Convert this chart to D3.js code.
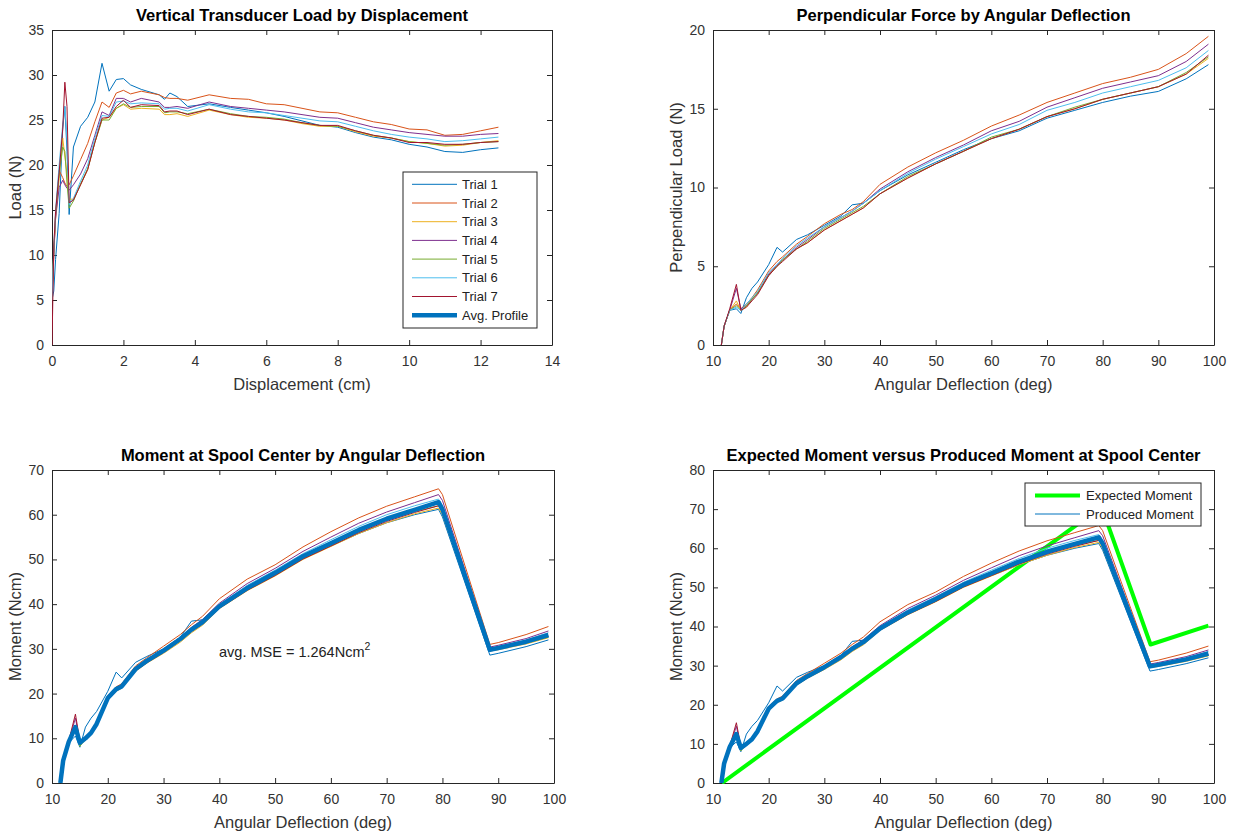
<!DOCTYPE html>
<html><head><meta charset="utf-8">
<script src="https://cdn.jsdelivr.net/npm/d3@7/dist/d3.min.js"></script>
<style>
html,body{margin:0;padding:0;background:#fff;}
svg{display:block;font-family:"Liberation Sans",Arial,Helvetica,sans-serif;}
</style></head><body>
<svg id="chart" width="1236" height="835"></svg>
<script>
// ---------- categories / names ----------
const trialNames = ["Trial 1","Trial 2","Trial 3","Trial 4","Trial 5","Trial 6","Trial 7"];
const trialColors = ["#0072BD","#D95319","#EDB120","#7E2F8E","#77AC30","#4DBEEE","#A2142F"];

// ---------- Panel 1: Load vs Displacement ----------
const dispX = [0,0.05,0.1,0.2,0.3,0.36,0.42,0.48,0.6,0.8,1.0,1.2,1.4,1.6,1.8,2.0,2.2,2.5,3.0,3.15,3.3,3.5,3.8,4.4,5.0,5.5,6.0,6.5,7.0,7.5,8.0,8.5,9.0,9.5,10.0,10.5,11.0,11.5,12.0,12.5];
const loadT1 = [5.0,6.0,9.5,14.6,24.0,26.5,21.5,14.5, 22.0,24.3,25.3,27.0,31.3,28.2,29.5,29.6,28.9,28.4,27.8,27.3,28.0,27.6,26.5,26.8,26.4,26.1,25.8,25.4,24.9,24.4,24.2,23.6,23.1,22.8,22.3,22.0,21.5,21.4,21.7,21.9];
const loadT2 = [5.0,10.0,14.5,19.4,18.6,18.0,17.6,17.8, 18.8,20.6,22.4,24.8,27.0,26.4,28.0,28.3,27.9,28.2,27.8,27.5,27.4,27.4,27.2,27.8,27.4,27.3,26.8,26.7,26.3,25.9,25.8,25.3,24.8,24.5,24.0,23.9,23.3,23.4,23.8,24.2];
const loadT3 = [5.0,10.5,14.0,18.5,23.0,21.0,19.0,16.2, 16.2,17.8,19.5,22.5,25.0,25.3,26.3,26.7,26.2,26.3,26.2,25.6,25.6,25.7,25.4,26.1,25.6,25.3,25.2,25.0,24.6,24.3,24.3,23.7,23.2,23.0,22.6,22.4,22.1,22.2,22.5,22.7];
const loadT4 = [5.0,10.0,14.0,17.5,18.3,17.8,17.4,17.2, 17.8,19.0,20.7,23.3,25.9,25.5,27.4,27.4,27.0,27.4,27.0,26.4,26.4,26.5,26.3,27.0,26.5,26.3,26.1,25.9,25.6,25.3,25.2,24.7,24.2,23.9,23.6,23.4,23.2,23.2,23.4,23.5];
const loadT5 = [5.0,10.5,14.5,19.0,22.0,21.5,18.0,15.2, 16.0,17.9,19.6,22.5,25.0,25.0,26.3,26.8,26.4,26.5,26.5,25.8,25.9,25.9,25.7,26.2,25.7,25.4,25.3,25.1,24.7,24.4,24.3,23.8,23.3,23.0,22.6,22.4,22.2,22.3,22.5,22.6];
const loadT6 = [5.0,10.8,15.0,20.0,24.5,26.5,23.0,15.6, 16.3,18.2,20.0,23.0,25.5,25.4,27.0,27.1,26.8,26.9,26.8,26.2,26.3,26.3,26.0,26.7,26.2,25.9,25.8,25.5,25.2,24.9,24.8,24.3,23.8,23.4,23.1,22.9,22.6,22.7,22.9,23.1];
const loadT7 = [0.0,11.0,14.8,19.2,24.0,29.2,26.5,15.8, 16.1,17.8,19.5,22.5,25.2,25.3,26.5,27.2,26.4,26.7,26.6,25.9,26.0,26.0,25.6,26.2,25.6,25.4,25.2,25.0,24.7,24.4,24.4,23.8,23.3,23.0,22.5,22.5,22.3,22.3,22.5,22.6];
const dispTicks = [0,2,4,6,8,10,12,14];
const loadTicks = [0,5,10,15,20,25,30,35];

// ---------- Panel 2: Perpendicular force vs angle ----------
const angX = [11.5,12,13,14.2,15,16,17,18,20,21.5,22.5,25,27,30,33,35,37,40,45,50,55,60,65,70,75,80,85,90,95,99];
const forceT1 = [0,1.2,2.2,2.3,2.0,3.0,3.6,4.0,5.1,6.2,5.9,6.7,7.0,7.6,8.2,8.9,9.0,9.8,10.8,11.6,12.4,13.1,13.6,14.4,14.9,15.4,15.8,16.1,16.9,17.8];
const forceT2 = [0,1.2,2.2,2.6,2.3,2.6,3.0,3.5,4.7,5.3,5.6,6.4,6.9,7.7,8.3,8.6,9.1,10.2,11.3,12.2,13.0,13.9,14.6,15.4,16.0,16.6,17.0,17.5,18.5,19.6];
const forceT3 = [0,1.2,2.2,2.8,2.2,2.4,2.9,3.3,4.5,5.0,5.4,6.1,6.5,7.3,7.9,8.3,8.7,9.6,10.6,11.5,12.3,13.1,13.7,14.5,15.0,15.6,16.0,16.4,17.2,18.2];
const forceT4 = [0,1.2,2.2,3.6,2.3,2.5,2.9,3.3,4.5,5.1,5.4,6.2,6.7,7.5,8.1,8.5,9.0,9.9,11.0,11.9,12.7,13.6,14.2,15.1,15.7,16.3,16.7,17.1,18.0,19.1];
const forceT5 = [0,1.2,2.2,2.5,2.2,2.5,2.9,3.3,4.4,5.0,5.4,6.1,6.6,7.4,8.0,8.4,8.8,9.6,10.7,11.5,12.3,13.2,13.7,14.5,15.1,15.6,16.0,16.4,17.3,18.3];
const forceT6 = [0,1.2,2.2,2.4,2.2,2.6,3.0,3.4,4.6,5.1,5.5,6.3,6.8,7.5,8.1,8.5,9.0,9.8,10.9,11.8,12.6,13.4,14.0,14.9,15.4,16.0,16.4,16.8,17.6,18.7];
const forceT7 = [0,1.2,2.3,3.85,2.2,2.4,2.8,3.2,4.4,5.0,5.3,6.1,6.5,7.3,7.9,8.3,8.7,9.6,10.6,11.5,12.3,13.1,13.7,14.5,15.0,15.6,16.0,16.4,17.2,18.4];
const angTicks = [10,20,30,40,50,60,70,80,90,100];
const forceTicks = [0,5,10,15,20];

// ---------- Panels 3 & 4: Moment vs angle ----------
const momX = [11.5,12,13,14.2,15,16,17,18,20,21.5,22.5,25,27,30,33,35,37,40,45,50,55,60,65,70,75,79.3,80,88.5,90,95,99];
const momT1 = [0,5.0,9.0,10.5,8.0,12.5,14.5,16.0,20.5,24.8,23.5,27.0,28.3,30.0,32.6,36.2,36.5,39.8,43.4,46.6,50.3,53.0,55.8,58.2,60.0,61.2,59.5,28.6,29.0,30.5,32.0];
const momT2 = [0,5.0,9.3,12.0,9.3,10.3,11.6,13.8,19.5,21.5,22.2,26.2,28.0,30.6,33.2,35.4,37.3,41.2,45.6,48.8,52.8,56.2,59.3,61.9,64.0,65.8,64.5,31.0,31.4,33.2,35.0];
const momT3 = [0,5.0,9.0,12.8,8.5,9.6,10.8,12.8,18.5,20.5,21.2,25.0,26.8,29.0,31.5,33.6,35.3,39.0,43.0,46.3,50.0,52.9,55.8,58.2,60.2,61.5,60.0,29.5,29.8,31.1,32.5];
const momT4 = [0,5.0,9.3,14.5,9.2,10.2,11.4,13.4,19.2,21.2,21.9,25.8,27.6,29.9,32.6,34.8,36.6,40.2,44.6,48.0,51.8,55.0,58.1,60.6,62.7,64.5,63.2,30.4,30.8,32.3,34.0];
const momT5 = [0,5.0,9.1,12.0,8.2,9.8,11.0,13.0,18.8,20.8,21.4,25.3,27.0,29.3,31.8,34.0,35.7,39.3,43.2,46.5,50.2,53.2,56.2,58.8,60.7,62.0,60.5,29.6,30.0,31.3,32.6];
const momT6 = [0,5.0,9.2,12.3,9.0,10.1,11.3,13.3,19.1,21.1,21.7,25.6,27.4,29.8,32.4,34.6,36.3,39.9,44.2,47.6,51.3,54.4,57.4,60.0,62.0,63.5,62.0,30.1,30.5,32.0,33.6];
const momT7 = [0,5.0,9.4,15.4,9.4,9.6,10.8,12.8,18.6,20.7,21.3,25.1,26.9,29.2,31.9,33.9,35.6,39.1,43.1,46.4,50.1,53.0,56.0,58.5,60.5,62.0,60.6,29.7,30.1,31.4,32.8];
const momAvg = [0,5.0,9.2,12.5,9.0,10.0,11.2,13.2,19.0,21.0,21.6,25.5,27.3,29.6,32.2,34.3,36.0,39.5,43.6,47.0,50.7,53.6,56.6,59.1,61.1,62.8,61.2,29.8,30.2,31.6,33.1];
const expX = [11.6,79.8,88.6,99];
const expY = [0,70.6,35.4,40.2];
const momTicks = [0,10,20,30,40,50,60,70];
const momTicks2 = [0,10,20,30,40,50,60,70,80];

const loadSeries = [loadT1,loadT2,loadT3,loadT4,loadT5,loadT6,loadT7];
const forceSeries = [forceT1,forceT2,forceT3,forceT4,forceT5,forceT6,forceT7];
const momSeries = [momT1,momT2,momT3,momT4,momT5,momT6,momT7];

// ---------- drawing ----------
const svg = d3.select("#chart");
const AX = "#262626", TXT = "#333333";

function panel(cfg){
  const x = d3.scaleLinear().domain(cfg.xDomain).range([cfg.left,cfg.right]);
  const y = d3.scaleLinear().domain(cfg.yDomain).range([cfg.bottom,cfg.top]);
  const g = svg.append("g");
  const style = sel => {
    sel.attr("font-size",14).attr("font-family",null);
    sel.selectAll("path,line").attr("stroke",AX).attr("stroke-width",1);
    sel.selectAll("text").attr("fill",TXT);
  };
  g.append("g").attr("transform",`translate(0,${cfg.bottom})`)
    .call(d3.axisBottom(x).tickValues(cfg.xTicks).tickSizeInner(-5).tickSizeOuter(0).tickPadding(11).tickFormat(d3.format("d"))).call(style);
  g.append("g").attr("transform",`translate(0,${cfg.top})`)
    .call(d3.axisTop(x).tickValues(cfg.xTicks).tickSizeInner(-5).tickSizeOuter(0).tickFormat("")).call(style);
  g.append("g").attr("transform",`translate(${cfg.left},0)`)
    .call(d3.axisLeft(y).tickValues(cfg.yTicks).tickSizeInner(-5).tickSizeOuter(0).tickPadding(8).tickFormat(d3.format("d"))).call(style);
  g.append("g").attr("transform",`translate(${cfg.right},0)`)
    .call(d3.axisRight(y).tickValues(cfg.yTicks).tickSizeInner(-5).tickSizeOuter(0).tickFormat("")).call(style);

  const cx = (cfg.left+cfg.right)/2;
  g.append("text").attr("x",cx).attr("y",cfg.top-9).attr("text-anchor","middle")
    .attr("font-weight","bold").attr("font-size",16.5).attr("fill","#000").text(cfg.title);
  g.append("text").attr("x",cx).attr("y",cfg.bottom+45).attr("text-anchor","middle")
    .attr("font-size",16.5).attr("fill",TXT).text(cfg.xLabel);
  const ly = (cfg.top+cfg.bottom)/2, lx = cfg.left-37;
  g.append("text").attr("transform",`translate(${lx},${ly}) rotate(-90)`).attr("dy","0.36em")
    .attr("text-anchor","middle").attr("font-size",16.5).attr("fill",TXT).text(cfg.yLabel);

  const clipId = "clip"+cfg.id;
  svg.append("clipPath").attr("id",clipId).append("rect")
    .attr("x",cfg.left).attr("y",cfg.top-2).attr("width",cfg.right-cfg.left+2).attr("height",cfg.bottom-cfg.top+3);
  const plot = svg.append("g").attr("clip-path",`url(#${clipId})`);
  return {x,y,plot};
}

function drawLine(p, xs, ys, color, width){
  const line = d3.line().x((d,i)=>p.x(xs[i])).y(d=>p.y(d));
  p.plot.append("path").datum(ys).attr("d",line).attr("fill","none")
    .attr("stroke",color).attr("stroke-width",width).attr("stroke-linejoin","round");
}

// Panel 1
const p1 = panel({id:1,left:52,right:552,top:30,bottom:345,xDomain:[0,14],yDomain:[0,35],
  xTicks:dispTicks,yTicks:loadTicks,title:"Vertical Transducer Load by Displacement",
  xLabel:"Displacement (cm)",yLabel:"Load (N)"});
loadSeries.forEach((s,i)=>drawLine(p1,dispX,s,trialColors[i],1));

// Panel 2
const p2 = panel({id:2,left:713,right:1214,top:30,bottom:345,xDomain:[10,100],yDomain:[0,20],
  xTicks:angTicks,yTicks:forceTicks,title:"Perpendicular Force by Angular Deflection",
  xLabel:"Angular Deflection (deg)",yLabel:"Perpendicular Load (N)"});
forceSeries.forEach((s,i)=>drawLine(p2,angX,s,trialColors[i],1));

// Panel 3
const p3 = panel({id:3,left:52,right:554,top:470,bottom:783,xDomain:[10,100],yDomain:[0,70],
  xTicks:angTicks,yTicks:momTicks,title:"Moment at Spool Center by Angular Deflection",
  xLabel:"Angular Deflection (deg)",yLabel:"Moment (Ncm)"});
momSeries.forEach((s,i)=>drawLine(p3,momX,s,trialColors[i],1));
drawLine(p3,momX,momAvg,"#0072BD",4.5);
const ann = svg.append("text").attr("x",219).attr("y",657).attr("font-size",14.5).attr("fill","#222");
ann.append("tspan").text("avg. MSE = 1.264Ncm");
ann.append("tspan").attr("dy",-7).attr("font-size",10.5).text("2");

// Panel 4
const p4 = panel({id:4,left:713,right:1214,top:470,bottom:783,xDomain:[10,100],yDomain:[0,80],
  xTicks:angTicks,yTicks:momTicks2,title:"Expected Moment versus Produced Moment at Spool Center",
  xLabel:"Angular Deflection (deg)",yLabel:"Moment (Ncm)"});
drawLine(p4,expX,expY,"#00FF00",4);
momSeries.forEach((s,i)=>drawLine(p4,momX,s,trialColors[i],1));
drawLine(p4,momX,momAvg,"#0072BD",4.5);

// Legend 1
const legend1Names = trialNames.concat(["Avg. Profile"]);
const lg1 = svg.append("g");
lg1.append("rect").attr("x",403).attr("y",172).attr("width",134).attr("height",156)
  .attr("fill","#fff").attr("stroke",AX).attr("stroke-width",1);
legend1Names.forEach((n,i)=>{
  const yy = 184.3 + i*18.7;
  const isAvg = i===7;
  lg1.append("line").attr("x1",412).attr("x2",457).attr("y1",yy).attr("y2",yy)
    .attr("stroke",isAvg?"#0072BD":trialColors[i]).attr("stroke-width",isAvg?4.5:1);
  lg1.append("text").attr("x",462).attr("y",yy).attr("dy","0.36em").attr("font-size",13).attr("fill","#222").text(n);
});

// Legend 2
const legend2Names = ["Expected Moment","Produced Moment"];
const legend2Colors = ["#00FF00","#0072BD"];
const legend2Widths = [4,1];
const lg2 = svg.append("g");
lg2.append("rect").attr("x",1025).attr("y",483).attr("width",176).attr("height",43)
  .attr("fill","#fff").attr("stroke",AX).attr("stroke-width",1);
legend2Names.forEach((n,i)=>{
  const yy = 495.5 + i*18.5;
  lg2.append("line").attr("x1",1035).attr("x2",1080).attr("y1",yy).attr("y2",yy)
    .attr("stroke",legend2Colors[i]).attr("stroke-width",legend2Widths[i]);
  lg2.append("text").attr("x",1086).attr("y",yy).attr("dy","0.36em").attr("font-size",13.2).attr("fill","#222").text(n);
});
</script>
</body></html>
